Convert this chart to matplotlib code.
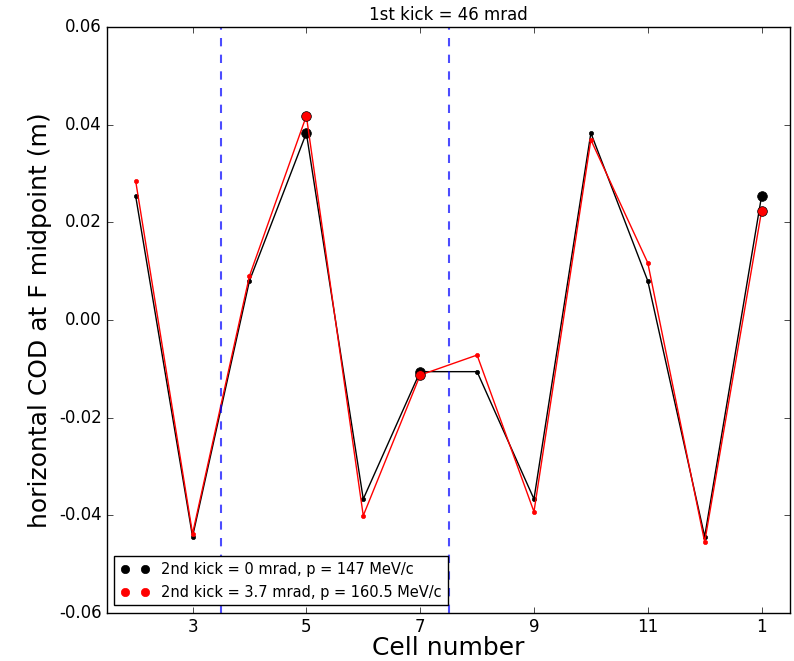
import numpy as np
import matplotlib
matplotlib.use("Agg")
import matplotlib.pyplot as plt
from matplotlib.lines import Line2D

plt.style.use('classic')

# cell order round the ring
cells = [2, 3, 4, 5, 6, 7, 8, 9, 10, 11, 12, 1]
tick_pos = [1, 3, 5, 7, 9, 11]
tick_labels = ['3', '5', '7', '9', '11', '1']

# COD at F midpoint (m)
cod_0 = [0.0254, -0.0444, 0.0080, 0.0383, -0.0367, -0.0106,
         -0.0106, -0.0367, 0.0383, 0.0080, -0.0444, 0.0254]
cod_37 = [0.0285, -0.0438, 0.0090, 0.0418, -0.0401, -0.0113,
          -0.0072, -0.0393, 0.0369, 0.0117, -0.0455, 0.0223]

# points marked with big markers
big_idx = [3, 5, 11]
kick_lines = [1.5, 5.5]

x = np.arange(len(cells))
cod_0 = np.array(cod_0)
cod_37 = np.array(cod_37)

fig = plt.figure(figsize=(7.94, 6.61), dpi=100, facecolor='white')
ax = fig.add_axes([0.135, 0.073, 0.86, 0.886])

ax.plot(x, cod_0, 'k-', marker='o', markersize=3, markeredgecolor='k', lw=1)
ax.plot(x[big_idx], cod_0[big_idx], 'ko', markersize=7, linestyle='none')
ax.plot(x, cod_37, 'r-', marker='o', markersize=3, markeredgecolor='r', lw=1)
ax.plot(x[big_idx], cod_37[big_idx], 'ro', markersize=7, linestyle='none')

for k in kick_lines:
    ax.axvline(k, color='b', linestyle='--', lw=1.5, alpha=0.7)

ax.set_xlim(-0.5, 11.5)
ax.set_ylim(-0.06, 0.06)
ax.set_xticks(tick_pos)
ax.set_xticklabels(tick_labels)
ax.set_yticks(np.arange(-0.06, 0.061, 0.02))
ax.yaxis.set_major_formatter(matplotlib.ticker.FormatStrFormatter('%.2f'))

ax.set_xlabel('Cell number', fontsize=18, labelpad=0)
ax.set_ylabel('horizontal COD at F midpoint (m)', fontsize=18)
ax.set_title('1st kick = 46 mrad', fontsize=12)

handles = [Line2D([], [], color='k', marker='o', linestyle='none', markersize=6,
                  markeredgecolor='k'),
           Line2D([], [], color='r', marker='o', linestyle='none', markersize=6,
                  markeredgecolor='r')]
ax.legend(handles, ['2nd kick = 0 mrad, p = 147 MeV/c',
                    '2nd kick = 3.7 mrad, p = 160.5 MeV/c'],
          loc='lower left', numpoints=2, fontsize=10.5)

fig.savefig('out.png', dpi=100, facecolor='white')
